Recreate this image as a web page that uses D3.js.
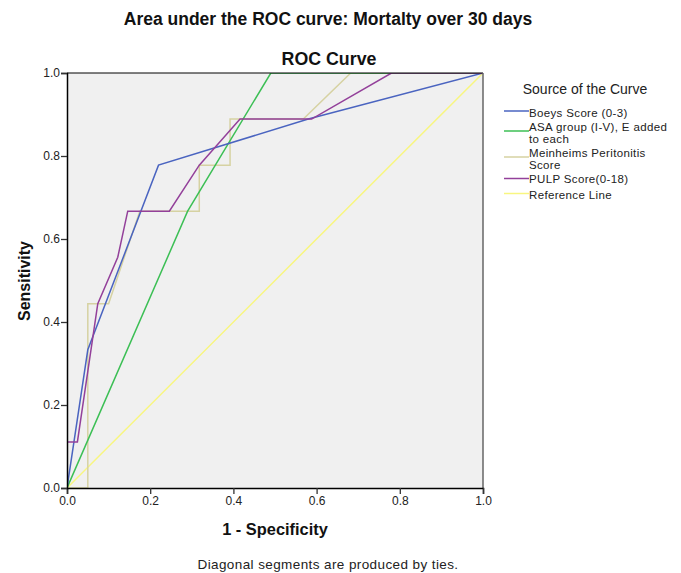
<!DOCTYPE html>
<html><head><meta charset="utf-8">
<script src="https://cdn.jsdelivr.net/npm/d3@7"></script>
<style>body{margin:0;background:#fff;} svg{display:block;font-family:Arial,"Liberation Sans",sans-serif;}</style>
</head><body>
<svg id="c" width="681" height="573"></svg>
<script>
const seriesNames = ["Boeys Score (0-3)", "ASA group (I-V), E added to each", "Meinheims Peritonitis Score", "PULP Score(0-18)", "Reference Line"];
const legendLines = [["Boeys Score (0-3)"], ["ASA group (I-V), E added", "to each"], ["Meinheims Peritonitis", "Score"], ["PULP Score(0-18)"], ["Reference Line"]];
const colors = ["#4a64c0", "#3cbf55", "#d6d2a2", "#93409a", "#f8f680"];
const boeysFpr = [0, 0.05, 0.22, 0.58, 1];
const boeysTpr = [0, 0.333, 0.778, 0.889, 1];
const asaFpr = [0, 0.29, 0.49, 1];
const asaTpr = [0, 0.667, 1, 1];
const meinFpr = [0, 0.05, 0.05, 0.10, 0.175, 0.318, 0.318, 0.392, 0.392, 0.568, 0.682, 1];
const meinTpr = [0, 0, 0.444, 0.444, 0.667, 0.667, 0.778, 0.778, 0.889, 0.889, 1, 1];
const pulpFpr = [0, 0, 0.025, 0.074, 0.122, 0.146, 0.246, 0.318, 0.416, 0.588, 0.78, 1];
const pulpTpr = [0, 0.111, 0.111, 0.444, 0.556, 0.667, 0.667, 0.778, 0.889, 0.889, 1, 1];
const refFpr = [0, 1];
const refTpr = [0, 1];
const ticks = [0, 0.2, 0.4, 0.6, 0.8, 1.0];

const svg = d3.select("#c");
const L = 67, R = 483, T = 73, B = 488;
const x = d3.scaleLinear().domain([0, 1]).range([L, R]);
const y = d3.scaleLinear().domain([0, 1]).range([B, T]);

svg.append("rect").attr("x", L).attr("y", T).attr("width", R - L).attr("height", B - T).attr("fill", "#f0f0f0");

svg.append("clipPath").attr("id", "pc").append("rect").attr("x", L).attr("y", T).attr("width", R - L).attr("height", B - T);

const series = [[boeysFpr, boeysTpr], [asaFpr, asaTpr], [meinFpr, meinTpr], [pulpFpr, pulpTpr], [refFpr, refTpr]];
const line = d3.line().x(d => x(d[0])).y(d => y(d[1]));
const order = [4, 2, 1, 0, 3];
const g = svg.append("g").attr("clip-path", "url(#pc)");
order.forEach(i => {
  const pts = series[i][0].map((v, k) => [v, series[i][1][k]]);
  g.append("path").attr("d", line(pts)).attr("fill", "none").attr("stroke", colors[i]).attr("stroke-width", 1.5);
});

// frame
svg.append("line").attr("x1", L).attr("x2", R).attr("y1", T).attr("y2", T).attr("stroke", "#000").attr("stroke-width", 1);
svg.append("line").attr("x1", R).attr("x2", R).attr("y1", T).attr("y2", B).attr("stroke", "#666").attr("stroke-width", 1.5);

const xa = svg.append("g").attr("transform", `translate(0,${B})`)
  .call(d3.axisBottom(x).tickValues(ticks).tickFormat(d3.format(".1f")).tickSizeOuter(0).tickSize(6));
const ya = svg.append("g").attr("transform", `translate(${L},0)`)
  .call(d3.axisLeft(y).tickValues(ticks).tickFormat(d3.format(".1f")).tickSizeOuter(0).tickSize(6));
[xa, ya].forEach(a => {
  a.select(".domain").attr("stroke", "#000").attr("stroke-width", 1.5);
  a.selectAll(".tick line").attr("stroke", "#333").attr("stroke-width", 1.3);
  a.selectAll(".tick text").attr("font-size", 12).attr("fill", "#222").attr("font-family", "Arial, 'Liberation Sans', sans-serif");
});
xa.selectAll(".tick text").attr("dy", "0.9em").attr("y", 6);
ya.selectAll(".tick text").attr("x", -7);

svg.append("text").attr("x", 328).attr("y", 25).attr("text-anchor", "middle").attr("font-size", 17.5).attr("font-weight", "bold").attr("fill", "#111").text("Area under the ROC curve: Mortalty over 30 days");
svg.append("text").attr("x", 329).attr("y", 65).attr("text-anchor", "middle").attr("font-size", 17.8).attr("font-weight", "bold").attr("fill", "#111").text("ROC Curve");
svg.append("text").attr("x", 275).attr("y", 535).attr("text-anchor", "middle").attr("font-size", 16.4).attr("font-weight", "bold").attr("fill", "#111").text("1 - Specificity");
svg.append("text").attr("transform", "translate(30,281) rotate(-90)").attr("text-anchor", "middle").attr("font-size", 16).attr("font-weight", "bold").attr("fill", "#111").text("Sensitivity");
svg.append("text").attr("x", 328).attr("y", 569).attr("text-anchor", "middle").attr("font-size", 13.5).attr("letter-spacing", 0.4).attr("fill", "#222").text("Diagonal segments are produced by ties.");

// legend
svg.append("text").attr("x", 585).attr("y", 94).attr("text-anchor", "middle").attr("font-size", 14).attr("fill", "#222").text("Source of the Curve");
const rowBase = [116.5, 130.5, 156.5, 182.5, 199];
const lineY = [111, 131, 157, 178.5, 193.5];
legendLines.forEach((lines, i) => {
  svg.append("line").attr("x1", 504).attr("x2", 529).attr("y1", lineY[i]).attr("y2", lineY[i]).attr("stroke", colors[i]).attr("stroke-width", 1.5);
  lines.forEach((t, k) => {
    svg.append("text").attr("x", 529).attr("y", rowBase[i] + k * 12).attr("font-size", 11.5).attr("letter-spacing", 0.35).attr("fill", "#222").text(t);
  });
});
</script>
</body></html>
